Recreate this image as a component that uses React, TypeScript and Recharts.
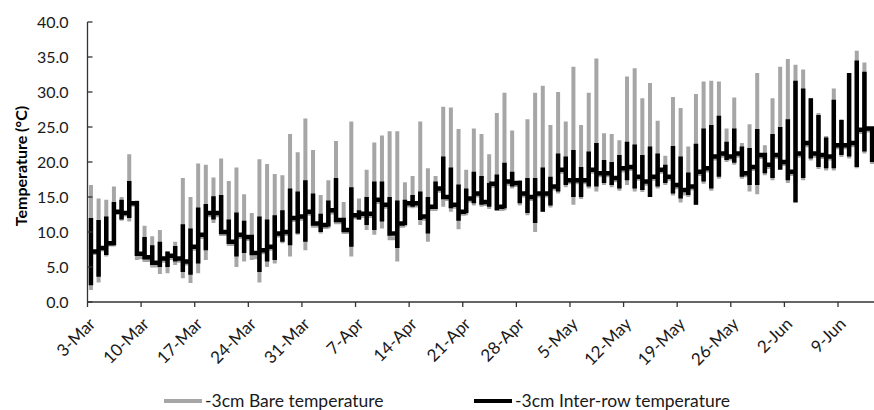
import React from 'react';
import { LineChart, Line, XAxis, YAxis, Legend } from 'recharts';

// One entry per day, starting 3-Mar. Each day: low, high, and the level the line settles at overnight.
const bareMax = [
  16.7, 14.8, 14.6, 16.5, 15.0, 21.1, 14.5, 10.9, 9.4, 10.3, 7.2, 8.6, 17.7, 15.0, 19.8, 19.6,
  17.8, 20.5, 17.3, 19.2, 15.4, 12.7, 20.4, 19.7, 18.3, 18.1, 24.0, 21.4, 26.2, 21.7, 15.3, 17.4,
  23.0, 14.3, 25.8, 14.8, 18.9, 22.8, 23.8, 24.4, 24.4, 17.1, 18.0, 25.8, 19.1, 18.0, 27.9, 27.8,
  24.7, 18.9, 24.8, 24.0, 21.1, 27.0, 29.9, 24.5, 17.4, 26.1, 29.9, 30.9, 25.3, 30.0, 25.8, 33.6,
  25.3, 29.9, 34.8, 24.1, 24.0, 23.1, 32.2, 33.4, 29.1, 31.3, 25.9, 20.9, 29.3, 27.7, 22.2, 29.7,
  31.5, 31.6, 31.5, 24.8, 29.2, 22.7, 25.4, 32.7, 22.4, 29.1, 33.6, 34.7, 33.9, 33.2, 29.1, 27.0,
  23.7, 30.5, 26.1, 32.7, 35.9, 34.2, 24.8,
];
const bareMin = [
  1.7, 2.8, 6.5, 8.5, 11.6, 11.5, 6.0, 6.2, 5.0, 4.0, 4.1, 5.3, 3.4, 2.7, 4.1, 6.0,
  11.3, 9.9, 8.0, 5.0, 5.8, 6.0, 2.8, 5.0, 5.5, 8.4, 6.5, 9.6, 7.4, 10.8, 9.8, 10.5,
  11.2, 9.8, 6.5, 11.7, 10.3, 9.6, 10.5, 9.1, 5.8, 10.8, 13.4, 11.0, 8.6, 14.6, 13.6, 12.9,
  10.4, 12.4, 13.8, 13.6, 13.3, 13.1, 13.1, 16.2, 13.8, 12.4, 10.0, 12.9, 13.5, 15.5, 16.4, 13.9,
  14.7, 16.2, 15.8, 16.7, 16.4, 15.9, 16.7, 15.8, 15.7, 15.3, 16.2, 16.7, 15.2, 14.2, 15.0, 13.9,
  16.9, 15.9, 17.6, 20.0, 19.6, 17.6, 15.8, 15.4, 18.1, 17.4, 19.1, 17.0, 17.0, 17.4, 20.2, 19.0,
  18.8, 18.8, 20.7, 20.5, 19.1, 21.2, 19.7,
];
const bareNight = [
  7.0, 7.5, 8.2, 12.7, 12.5, 13.9, 6.4, 6.0, 5.2, 5.9, 6.3, 5.9, 5.5, 7.6, 9.3, 12.4,
  12.4, 9.7, 8.3, 9.3, 9.0, 6.4, 7.1, 7.6, 9.5, 9.7, 11.7, 11.9, 12.6, 10.9, 10.7, 12.8,
  11.4, 10.0, 12.1, 12.3, 12.3, 14.3, 13.6, 9.1, 10.9, 13.8, 13.8, 11.9, 13.3, 15.9, 14.7, 13.6,
  12.6, 14.5, 15.2, 14.0, 16.6, 13.3, 16.9, 16.7, 15.2, 14.7, 15.2, 15.2, 16.2, 18.6, 17.1, 17.1,
  17.1, 18.6, 18.1, 18.1, 17.4, 18.8, 19.0, 17.6, 16.9, 17.6, 18.6, 17.6, 16.4, 15.5, 16.2, 18.3,
  18.8, 20.5, 20.9, 20.5, 20.9, 18.1, 19.0, 20.7, 19.3, 20.7, 19.7, 18.3, 20.9, 22.4, 20.9, 20.7,
  20.5, 22.1, 22.1, 22.4, 24.3, 24.5, 24.5,
];

const interMax = [
  12.0, 11.7, 12.2, 14.3, 14.6, 17.3, 14.1, 9.3, 8.1, 8.6, 7.2, 8.0, 11.1, 10.5, 13.5, 14.0,
  15.1, 15.3, 11.8, 12.8, 11.6, 9.6, 12.2, 11.8, 12.4, 13.1, 16.2, 15.8, 17.4, 15.5, 12.6, 14.5,
  17.7, 11.7, 16.4, 13.1, 15.0, 17.2, 17.2, 15.0, 14.5, 14.6, 15.3, 15.8, 15.0, 17.2, 20.8, 19.2,
  16.8, 16.2, 18.6, 18.0, 17.0, 18.2, 19.9, 18.6, 15.8, 17.7, 17.7, 19.2, 17.9, 21.2, 20.8, 21.7,
  19.3, 21.5, 22.7, 20.3, 20.0, 21.0, 22.9, 22.5, 21.0, 22.2, 21.2, 19.6, 22.3, 20.8, 18.5, 22.6,
  24.8, 25.3, 26.6, 22.9, 24.8, 22.2, 22.0, 24.7, 21.2, 24.0, 25.0, 26.1, 31.6, 30.5, 29.1, 26.7,
  23.5, 28.9, 26.0, 32.7, 34.5, 32.9, 24.8,
];
const interMin = [
  2.4, 3.6, 6.7, 8.1, 11.8, 12.0, 6.7, 6.4, 5.5, 5.0, 5.0, 5.8, 4.3, 3.9, 5.5, 7.4,
  11.8, 10.3, 8.4, 6.5, 7.0, 6.7, 4.3, 5.8, 6.0, 8.6, 8.1, 9.8, 8.6, 11.0, 10.0, 10.8,
  11.5, 10.3, 7.9, 11.8, 11.0, 10.3, 11.5, 9.6, 7.7, 11.0, 13.6, 11.7, 9.8, 14.8, 14.8, 13.4,
  11.6, 12.7, 14.1, 13.9, 13.6, 13.1, 13.4, 16.5, 14.1, 12.7, 11.3, 12.9, 13.8, 15.8, 16.7, 15.0,
  15.0, 16.5, 16.5, 17.0, 16.7, 16.2, 17.4, 16.2, 16.0, 15.0, 16.5, 17.0, 15.5, 14.8, 15.3, 13.9,
  17.2, 16.2, 17.9, 20.3, 19.9, 17.9, 16.7, 16.7, 18.4, 17.7, 18.9, 17.4, 14.2, 17.7, 20.5, 19.3,
  19.1, 19.1, 21.0, 20.8, 19.3, 21.5, 20.0,
];
const interNight = [
  7.2, 7.7, 8.4, 12.9, 12.7, 14.1, 6.9, 6.4, 5.6, 6.2, 6.6, 6.2, 5.8, 7.9, 9.6, 12.7,
  12.7, 10.0, 8.6, 9.6, 9.3, 7.0, 7.4, 7.9, 9.8, 10.0, 12.0, 12.2, 12.9, 11.2, 11.0, 13.1,
  11.7, 10.3, 12.4, 12.6, 12.6, 14.6, 13.9, 9.8, 11.2, 14.1, 14.1, 12.2, 13.6, 16.2, 15.0, 13.9,
  12.9, 14.8, 15.5, 14.3, 16.9, 13.6, 17.2, 17.0, 15.5, 15.0, 15.5, 15.5, 16.5, 18.9, 17.4, 17.4,
  17.4, 18.9, 18.4, 18.4, 17.7, 19.1, 19.3, 17.9, 17.2, 17.9, 18.9, 17.9, 16.7, 16.0, 16.5, 18.6,
  19.1, 20.8, 21.2, 20.8, 21.2, 18.4, 19.3, 21.0, 19.6, 21.0, 20.0, 18.6, 21.2, 22.7, 21.2, 21.0,
  20.8, 22.4, 22.4, 22.7, 24.6, 24.8, 24.8,
];

const weekTicks = [0, 7, 14, 21, 28, 35, 42, 49, 56, 63, 70, 77, 84, 91, 98];
const weekLabels = [
  '3-Mar', '10-Mar', '17-Mar', '24-Mar', '31-Mar', '7-Apr', '14-Apr', '21-Apr',
  '28-Apr', '5-May', '12-May', '19-May', '26-May', '2-Jun', '9-Jun',
];
const yTicks = [0, 5, 10, 15, 20, 25, 30, 35, 40];

const BARE = '#a6a6a6';
const INTER = '#000000';
const FONT = 'Lato, "Open Sans", sans-serif';

// three points per day at the same instant; stepAfter turns them into a vertical stroke
// followed by a flat run to the next day
const rows: { t: number; bare: number; inter: number }[] = [];
bareMax.forEach((_, i) => {
  const t = i + 0.45;
  rows.push({ t, bare: bareMin[i], inter: interMin[i] });
  rows.push({ t, bare: bareMax[i], inter: interMax[i] });
  rows.push({ t, bare: bareNight[i], inter: interNight[i] });
});

const XTick = ({ x, y, payload }: any) => {
  const idx = weekTicks.indexOf(payload.value);
  const ax = x + 9;
  const ay = y + 16;
  return (
    <text
      x={ax}
      y={ay}
      transform={`rotate(-45 ${ax} ${ay})`}
      textAnchor="end"
      fontFamily={FONT}
      fontSize={17}
      fill="#1a1a1a"
    >
      {weekLabels[idx]}
    </text>
  );
};

const YTitle = ({ viewBox }: any) => {
  const cy = viewBox.y + viewBox.height / 2 + 4;
  const cx = 20;
  return (
    <text
      x={cx}
      y={cy}
      transform={`rotate(-90 ${cx} ${cy})`}
      textAnchor="middle"
      dominantBaseline="central"
      fontFamily={FONT}
      fontWeight="bold"
      fontSize={16}
      fill="#000"
    >
      Temperature (°C)
    </text>
  );
};

const LegendBox = () => (
  <div style={{ position: 'relative', width: 874, height: 18, fontFamily: FONT, fontSize: 17.5, lineHeight: '18px', color: '#1a1a1a' }}>
    {[
      { name: '-3cm Bare temperature', color: BARE, left: 164 },
      { name: '-3cm Inter-row temperature', color: INTER, left: 474 },
    ].map((item) => (
      <div key={item.name} style={{ position: 'absolute', left: item.left, top: 0, display: 'flex', alignItems: 'center', height: 18 }}>
        <span style={{ display: 'inline-block', width: 38, height: 4, background: item.color, marginRight: 3 }} />
        <span>{item.name}</span>
      </div>
    ))}
  </div>
);

export default function App() {
  return (
    <div style={{ width: 874, height: 410, background: '#fff' }}>
      <style>{'body{margin:0}'}</style>
      <LineChart width={874} height={410} data={rows} margin={{ top: 22, right: 0, bottom: 0, left: 0 }}>
        <XAxis
          dataKey="t"
          type="number"
          domain={[0, 102.7]}
          ticks={weekTicks}
          interval={0}
          tick={<XTick />}
          tickSize={5}
          tickMargin={2}
          height={108}
          stroke="#333"
          strokeWidth={1.3}
          allowDataOverflow
        />
        <YAxis
          type="number"
          domain={[0, 40]}
          ticks={yTicks}
          interval={0}
          width={87.5}
          tickSize={-5}
          tickMargin={24}
          tickFormatter={(v: number) => v.toFixed(1)}
          tick={{ fontFamily: FONT, fontSize: 16, fill: '#1a1a1a' }}
          stroke="#333"
          strokeWidth={1.3}
          label={{ content: <YTitle /> }}
        />
        <Legend
          layout="horizontal"
          verticalAlign="middle"
          wrapperStyle={{ top: 392, left: 0, width: 874, height: 18 }}
          content={<LegendBox />}
        />
        <Line
          type="stepAfter"
          dataKey="bare"
          stroke={BARE}
          strokeWidth={4}
          dot={false}
          activeDot={false}
          isAnimationActive={false}
        />
        <Line
          type="stepAfter"
          dataKey="inter"
          stroke={INTER}
          strokeWidth={4.5}
          dot={false}
          activeDot={false}
          isAnimationActive={false}
        />
      </LineChart>
    </div>
  );
}
